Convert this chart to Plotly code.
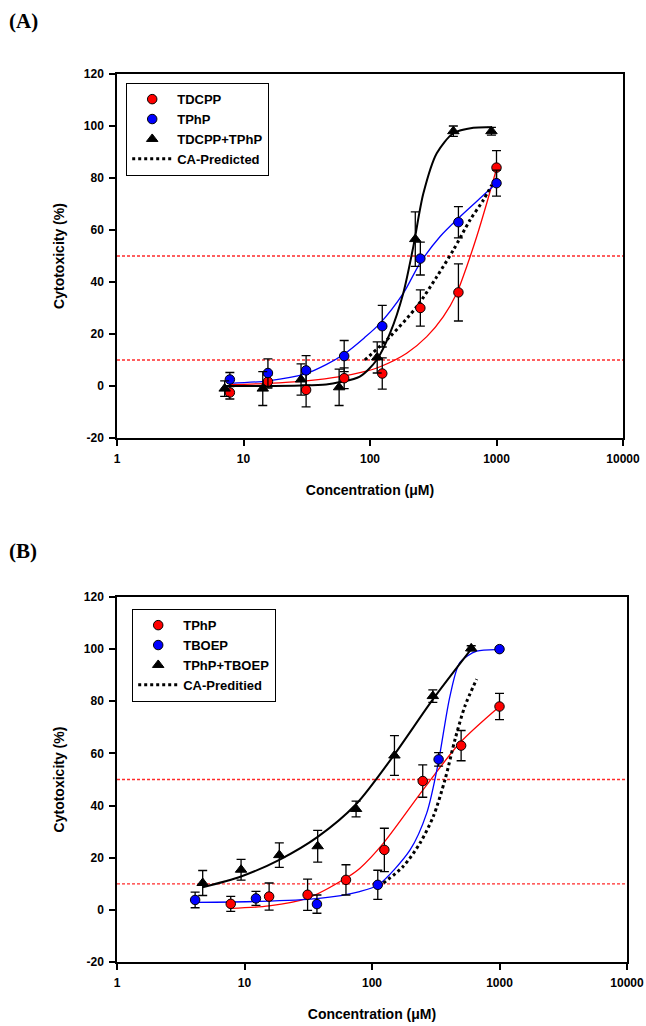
import plotly.graph_objects as go

# ---------------- Panel A data ----------------
conc_a = [7.8, 15.6, 31.25, 62.5, 125, 250, 500, 1000]
tdcpp_y = [-2.5, 1.7, -1.5, 3.0, 4.8, 30, 36, 84]
tdcpp_err = [2.5, 2.5, 6.5, 4, 6, 7, 11, 6.5]
tphp_a_y = [2.5, 5.0, 6.0, 11.5, 23, 49, 63, 78]
tphp_a_err = [2.7, 5.4, 5.7, 6, 8, 6.3, 6, 5]
mix_a_x = [7.1, 14.2, 28.5, 57, 114, 228, 456, 912]
mix_a_y = [-1, -1, 2.5, -0.5, 11, 56.5, 98, 98]
mix_a_err = [3, 6.5, 6, 7, 6, 10.5, 2, 1.5]

# fitted curves (panel A)
red_a_cx = [7.8, 15.6, 31.25, 58, 90, 120, 195, 281, 380, 484, 581, 697, 837, 1000]
red_a_cy = [0.5, 1.0, 2.0, 3.6, 5.5, 7.4, 12.6, 19, 26.7, 35.6, 45.9, 57.4, 70.3, 83.5]
blue_a_cx = [7.8, 15.6, 31.25, 45, 62.5, 90, 120, 183, 248, 357, 514, 741, 1000]
blue_a_cy = [1.0, 2.0, 4.8, 8.2, 12.3, 18.5, 24.1, 35.6, 47.2, 57.4, 65.1, 72.2, 78]
black_a_cx = [7.1, 14.2, 28.5, 45, 58, 83, 113, 144, 183, 220, 264, 337, 456, 656, 912]
black_a_cy = [0.0, 0.0, 0.2, 0.6, 1.5, 3.6, 10, 20.3, 35.6, 53.6, 74, 89.5, 97.2, 99.3, 99.5]
ca_a_cx = [91, 144, 234, 337, 456, 617, 787, 916]
ca_a_cy = [10, 19, 30.5, 42, 52.3, 63.8, 71.5, 77.3]

# ---------------- Panel B data ----------------
conc_tphp_b = [7.8, 15.6, 31.25, 62.5, 125, 250, 500, 1000]
tphp_b_y = [2.3, 5.1, 5.8, 11.5, 23, 49.4, 63, 78]
tphp_b_err = [2.9, 5.2, 6, 5.8, 8.3, 6.2, 5.8, 5]
conc_tboep = [4.1, 12.3, 37, 111, 333, 1000]
tboep_y = [3.8, 4.4, 2.2, 9.6, 57.7, 100]
tboep_err = [3, 2.7, 3.5, 5.6, 2.6, 0.5]
mix_b_x = [4.7, 9.4, 18.75, 37.5, 75, 150, 300, 600]
mix_b_y = [10.3, 15.4, 21, 24.4, 38.7, 59.2, 82, 100.3]
mix_b_err = [4.8, 4, 4.7, 6.1, 3, 7.6, 2.4, 1]

red_b_cx = [7.8, 15.6, 31.25, 62.5, 80.5, 123, 253, 490, 1000]
red_b_cy = [0.6, 1.5, 4.5, 12.2, 16, 25.6, 46.2, 64.1, 78]
blue_b_cx = [4.1, 12.3, 37, 80, 112, 199, 269, 331, 409, 490, 663, 1000]
blue_b_cy = [2.9, 3.2, 4.3, 7, 9.6, 23, 37.2, 56.4, 82, 94.9, 99.2, 99.8]
black_b_cx = [4.7, 9.4, 18.75, 37.5, 75, 147, 303, 600]
black_b_cy = [8.7, 12.8, 19.2, 28, 40.5, 59, 81, 100]
ca_b_cx = [123, 176, 238, 303, 374, 448, 536, 662]
ca_b_cy = [10.3, 16.7, 25.6, 35.9, 50, 65.4, 78.2, 88.5]

ref_levels = [50, 10]
x_ticks = [1, 10, 100, 1000, 10000]
y_ticks = [-20, 0, 20, 40, 60, 80, 100, 120]

W, H = 646, 1026
SANS = "Liberation Sans, Arial, sans-serif"
SERIF = "Liberation Serif, Times New Roman, serif"

fig = go.Figure()


def add_panel(xa, ya, leg, curves, points, ca):
    for cx, cy, col, w in curves:
        fig.add_trace(go.Scatter(x=cx, y=cy, mode="lines", xaxis=xa, yaxis=ya,
                                 line=dict(color=col, width=w, shape="spline", smoothing=0.8),
                                 showlegend=False, hoverinfo="skip"))
    fig.add_trace(go.Scatter(x=ca[0], y=ca[1], mode="lines", xaxis=xa, yaxis=ya,
                             line=dict(color="black", width=3, dash="dot", shape="spline",
                                       smoothing=0.8),
                             name=ca[2], legend=leg, legendrank=4))
    for i, (x, y, e, col, sym, name) in enumerate(points):
        fig.add_trace(go.Scatter(
            x=x, y=y, mode="markers", xaxis=xa, yaxis=ya, name=name, legend=leg,
            legendrank=i + 1,
            marker=dict(color=col, symbol=sym, size=9.5 if sym == "circle" else 10,
                        line=dict(color="black", width=1)),
            error_y=dict(type="data", array=e, visible=True, color="black",
                         thickness=1.3, width=4.5)))


add_panel("x", "y", "legend",
          [(red_a_cx, red_a_cy, "#ff0000", 1.3),
           (blue_a_cx, blue_a_cy, "#0000ff", 1.3),
           (black_a_cx, black_a_cy, "black", 2)],
          [(conc_a, tdcpp_y, tdcpp_err, "#ff0000", "circle", "TDCPP"),
           (conc_a, tphp_a_y, tphp_a_err, "#0000ff", "circle", "TPhP"),
           (mix_a_x, mix_a_y, mix_a_err, "black", "triangle-up", "TDCPP+TPhP")],
          (ca_a_cx, ca_a_cy, "CA-Predicted"))

add_panel("x2", "y2", "legend2",
          [(red_b_cx, red_b_cy, "#ff0000", 1.3),
           (blue_b_cx, blue_b_cy, "#0000ff", 1.3),
           (black_b_cx, black_b_cy, "black", 2)],
          [(conc_tphp_b, tphp_b_y, tphp_b_err, "#ff0000", "circle", "TPhP"),
           (conc_tboep, tboep_y, tboep_err, "#0000ff", "circle", "TBOEP"),
           (mix_b_x, mix_b_y, mix_b_err, "black", "triangle-up", "TPhP+TBOEP")],
          (ca_b_cx, ca_b_cy, "CA-Preditied"))

# reference lines
for xa, ya in [("x", "y"), ("x2", "y2")]:
    for lv in ref_levels:
        fig.add_shape(type="line", xref=f"{xa} domain", yref=ya, x0=0, x1=1, y0=lv, y1=lv,
                      line=dict(color="#ff2a2a", width=1.3, dash="3px,2px"), layer="below")

tickfont = dict(family=SANS, size=12, color="black", weight="bold")
titlefont = dict(family=SANS, size=14, color="black", weight="bold")


def xaxis_def(dom, anchor):
    return dict(domain=dom, anchor=anchor, type="log", range=[0, 4], tickvals=x_ticks,
                ticktext=[str(v) for v in x_ticks], ticks="outside", ticklen=6, tickwidth=1.5,
                tickcolor="black", showline=True, linecolor="black", linewidth=1.5,
                mirror=True, showgrid=False, zeroline=False, tickfont=tickfont,
                automargin=False, ticklabelstandoff=3,
                title=dict(text="Concentration (μM)", font=titlefont, standoff=20))


def yaxis_def(dom, anchor):
    return dict(domain=dom, anchor=anchor, range=[-20, 120], tickvals=y_ticks,
                ticktext=[str(v) for v in y_ticks],
                ticks="outside", ticklen=6, tickwidth=1.5, tickcolor="black",
                showline=True, linecolor="black", linewidth=1.5, mirror=True,
                showgrid=False, zeroline=False, tickfont=tickfont, automargin=False,
                ticklabelstandoff=3,
                title=dict(text="Cytotoxicity (%)", font=titlefont, standoff=16))


legfont = dict(family=SANS, size=13, color="black", weight="bold")
fig.update_layout(
    width=W, height=H, margin=dict(l=0, r=0, t=0, b=0, autoexpand=False),
    paper_bgcolor="white", plot_bgcolor="white",
    xaxis=xaxis_def([117 / W, 623 / W], "y"),
    yaxis=yaxis_def([1 - 438 / H, 1 - 74 / H], "x"),
    xaxis2=xaxis_def([117 / W, 627 / W], "y2"),
    yaxis2=yaxis_def([1 - 962 / H, 1 - 597 / H], "x2"),
    legend=dict(x=126 / W, y=1 - 83 / H, xanchor="left", yanchor="top", bgcolor="white",
                bordercolor="black", borderwidth=1.2, font=legfont, traceorder="normal",
                itemwidth=40),
    legend2=dict(x=132 / W, y=1 - 609 / H, xanchor="left", yanchor="top", bgcolor="white",
                 bordercolor="black", borderwidth=1.2, font=legfont, traceorder="normal",
                 itemwidth=40),
    annotations=[
        dict(text="<b>(A)</b>", x=7 / W, y=1 - 21 / H, xref="paper", yref="paper",
             xanchor="left", yanchor="middle", showarrow=False,
             font=dict(family=SERIF, size=21, color="black")),
        dict(text="<b>(B)</b>", x=7 / W, y=1 - 551 / H, xref="paper", yref="paper",
             xanchor="left", yanchor="middle", showarrow=False,
             font=dict(family=SERIF, size=21, color="black")),
    ],
)

fig.write_html("out.html", config={"displayModeBar": False},
               post_script="document.body.style.margin='0';document.body.style.overflow='hidden';")
